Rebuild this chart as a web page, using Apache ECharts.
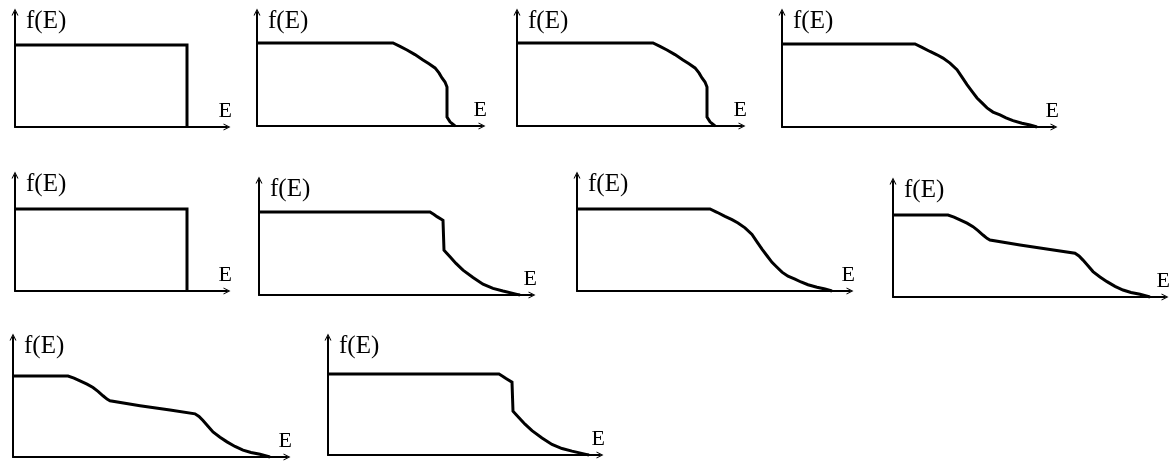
<!DOCTYPE html>
<html>
<head>
<meta charset="utf-8">
<style>
  html, body { margin: 0; padding: 0; background: #fff; }
  #main { width: 1176px; height: 464px; }
</style>
<script src="https://cdn.jsdelivr.net/npm/echarts@6/dist/echarts.min.js"></script>
</head>
<body>
<div id="main"></div>
<script>
// f(E) shapes, E measured from the origin, f relative to the plateau (1 = full)
var stepCurve = [[0, 1], [172, 1], [172, 0]]
var kneeCurve = [[0, 1], [136, 1], [143, 0.96], [150, 0.916], [158, 0.86], [166, 0.795], [172, 0.75], [178, 0.70], [182, 0.64], [185, 0.578], [188, 0.53], [190, 0.47], [190, 0.108], [193, 0.05], [198, 0]]
var fermiCurve = [[0, 1], [133, 1], [140, 0.96], [148, 0.91], [155, 0.87], [161, 0.83], [168, 0.77], [175, 0.69], [180, 0.60], [185, 0.51], [190, 0.43], [195, 0.35], [200, 0.29], [205, 0.23], [211, 0.18], [218, 0.145], [224, 0.11], [231, 0.076], [240, 0.045], [248, 0.024], [255, 0]]
var twoStepCurve = [[0, 1], [55, 1], [61, 0.975], [67, 0.94], [74, 0.90], [80, 0.858], [85, 0.81], [90, 0.756], [94, 0.715], [97, 0.695], [127, 0.634], [157, 0.58], [182, 0.533], [186, 0.50], [190, 0.45], [195, 0.38], [200, 0.31], [207, 0.245], [214, 0.187], [222, 0.13], [230, 0.085], [238, 0.055], [247, 0.033], [257, 0]]
var cliffCurve = [[0, 1], [171, 1], [175, 0.97], [178, 0.944], [184, 0.90], [185, 0.54], [188, 0.50], [191, 0.46], [197, 0.38], [204, 0.30], [214, 0.21], [224, 0.13], [234, 0.08], [244, 0.048], [258, 0.008], [261, 0]]

var yName = 'f(E)'
var xName = 'E'

// panel layout: origin x, arrow tip y, arrow tip x, baseline y, plateau y
var panels = [
  { x0: 15,  top: 9,   right: 230,  base: 127, plateau: 45,  curve: stepCurve },
  { x0: 257, top: 9,   right: 485,  base: 126, plateau: 43,  curve: kneeCurve },
  { x0: 517, top: 9,   right: 745,  base: 126, plateau: 43,  curve: kneeCurve },
  { x0: 782, top: 9,   right: 1057, base: 127, plateau: 44,  curve: fermiCurve },
  { x0: 15,  top: 172, right: 230,  base: 291, plateau: 209, curve: stepCurve },
  { x0: 259, top: 177, right: 535,  base: 295, plateau: 212, curve: cliffCurve },
  { x0: 577, top: 172, right: 853,  base: 291, plateau: 209, curve: fermiCurve },
  { x0: 893, top: 178, right: 1168, base: 297, plateau: 215, curve: twoStepCurve },
  { x0: 13,  top: 334, right: 290,  base: 457, plateau: 376, curve: twoStepCurve },
  { x0: 328, top: 334, right: 603,  base: 455, plateau: 374, curve: cliffCurve }
]

var arrowPath = 'path://M0,10 L5,0 L10,10 L8.4,10 L5,3.2 L1.6,10 Z'
var arrowSize = [8, 7]

var grids = [], xAxes = [], yAxes = [], series = []
panels.forEach(function (p, i) {
  var left = p.x0
  var top = p.top + 3
  var width = p.right - 3 - left
  var height = p.base - top
  grids.push({ left: left, top: top, width: width, height: height })
  xAxes.push({
    gridIndex: i,
    type: 'value',
    min: 0,
    max: width,
    name: xName,
    nameLocation: 'end',
    nameGap: 5,
    nameTextStyle: {
      fontFamily: 'Liberation Serif', fontSize: 22, color: '#000',
      align: 'right', verticalAlign: 'bottom', padding: [0, 0, 5, 0]
    },
    axisLine: {
      onZero: false,
      symbol: ['none', arrowPath],
      symbolSize: arrowSize,
      lineStyle: { color: '#000', width: 2 }
    },
    axisTick: { show: false },
    axisLabel: { show: false },
    splitLine: { show: false }
  })
  yAxes.push({
    gridIndex: i,
    type: 'value',
    min: 0,
    max: height / (p.base - p.plateau),
    name: yName,
    nameLocation: 'end',
    nameGap: -9,
    nameTextStyle: {
      fontFamily: 'Liberation Serif', fontSize: 25, color: '#000',
      align: 'left', verticalAlign: 'middle', padding: [0, 0, 0, 11]
    },
    axisLine: {
      onZero: false,
      symbol: ['none', arrowPath],
      symbolSize: arrowSize,
      lineStyle: { color: '#000', width: 2 }
    },
    axisTick: { show: false },
    axisLabel: { show: false },
    splitLine: { show: false }
  })
  series.push({
    type: 'line',
    xAxisIndex: i,
    yAxisIndex: i,
    data: p.curve,
    showSymbol: false,
    symbol: 'none',
    clip: false,
    lineStyle: { color: '#000', width: 3, join: 'miter', cap: 'butt' }
  })
})

var chart = echarts.init(document.getElementById('main'))
chart.setOption({
  animation: false,
  backgroundColor: '#fff',
  grid: grids,
  xAxis: xAxes,
  yAxis: yAxes,
  series: series
})
</script>
</body>
</html>
